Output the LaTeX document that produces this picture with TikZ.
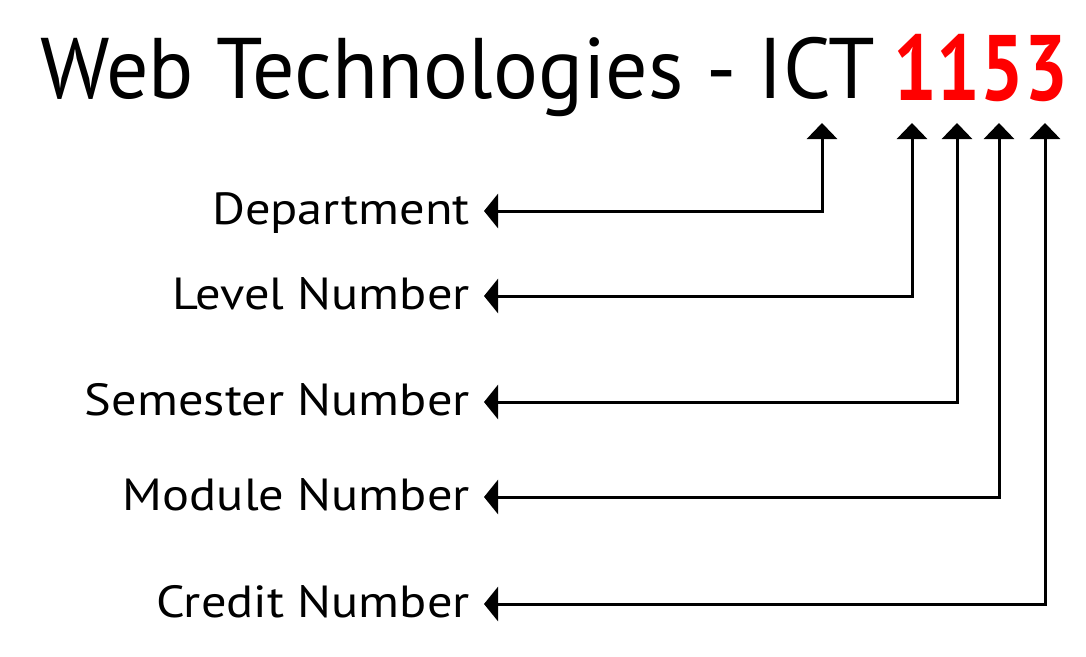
\documentclass[tikz,border=0pt]{standalone}
\usepackage{fontspec}
\setmainfont{PT Sans}
\usetikzlibrary{arrows.meta}
\definecolor{codered}{RGB}{255,0,0}
\newcommand{\lblbox}[1]{\scalebox{1.12}[1]{#1}}
\begin{document}
\begin{tikzpicture}[x=1pt,y=-1pt,
  lbl/.style={anchor=east,inner sep=0pt,text height=27pt,text depth=0pt,font=\fontsize{45}{45}\selectfont},
  conn/.style={line width=3pt,{Triangle[length=14pt,width=34pt]}-{Triangle[length=16pt,width=30pt]}}]
\useasboundingbox (0,0) rectangle (1086,656);
\node[anchor=base west,inner sep=0pt,font=\fontsize{86}{86}\selectfont] (title) at (40,98) {\scalebox{0.976}[1]{Web Technologies - ICT}};
\node[anchor=base west,inner sep=0pt,font=\fontsize{93}{93}\selectfont\bfseries,text=codered] (code) at (893,100) {\scalebox{0.83}[1]{1153}};
\coordinate (tDept) at (822,123);
\coordinate (tLev) at (912,123);
\coordinate (tSem) at (957,123);
\coordinate (tMod) at (999,123);
\coordinate (tCred) at (1045,123);
\node[lbl] (dept) at (470,211) {\lblbox{Department}};
\node[lbl] (lev) at (470,296) {\lblbox{Level Number}};
\node[lbl] (sem) at (470,402) {\lblbox{Semester Number}};
\node[lbl] (mod) at (470,497) {\lblbox{Module Number}};
\node[lbl] (cred) at (470,604) {\lblbox{Credit Number}};
\draw[conn] ([xshift=14pt]dept.east) -| (tDept);
\draw[conn] ([xshift=14pt]lev.east) -| (tLev);
\draw[conn] ([xshift=14pt]sem.east) -| (tSem);
\draw[conn] ([xshift=14pt]mod.east) -| (tMod);
\draw[conn] ([xshift=14pt]cred.east) -| (tCred);
\end{tikzpicture}
\end{document}
